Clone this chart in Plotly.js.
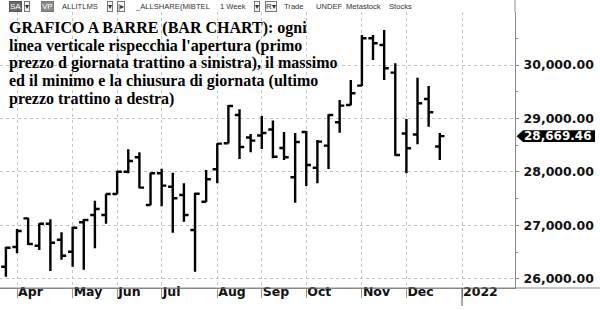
<!DOCTYPE html>
<html>
<head>
<meta charset="utf-8">
<script src="https://cdn.plot.ly/plotly-3.0.1.min.js"></script>
<style>html,body{margin:0;padding:0;background:#fff;}#chart{width:600px;height:310px;}</style>
</head>
<body>
<div id="chart"></div>
<script>
// Weekly bars (week ending Friday)
const dates = ['2021-03-26','2021-04-02','2021-04-09','2021-04-16','2021-04-23','2021-04-30',
  '2021-05-07','2021-05-14','2021-05-21','2021-05-28','2021-06-04','2021-06-11','2021-06-18','2021-06-25',
  '2021-07-02','2021-07-09','2021-07-16','2021-07-23','2021-07-30','2021-08-06','2021-08-13','2021-08-20',
  '2021-08-27','2021-09-03','2021-09-10','2021-09-17','2021-09-24','2021-10-01','2021-10-08','2021-10-15',
  '2021-10-22','2021-10-29','2021-11-05','2021-11-12','2021-11-19','2021-11-26','2021-12-03','2021-12-10',
  '2021-12-17','2021-12-24'];
const opens  = [26225,26594,27130,26618,27030,26730,26506,27056,27193,27193,27586,28004,28274,27380,
  27974,27723,27568,26912,27442,28049,28536,29066,28645,28682,28795,28448,27899,28748,28079,28491,
  28929,29253,29615,30503,30377,29858,28720,28701,29366,28476];
const highs  = [26599,26931,27143,27038,27113,26869,26974,27118,27461,27592,28023,28424,28367,27985,
  28060,27985,27787,27611,28036,28536,29253,29173,28710,29047,28963,28748,28729,28766,28598,29079,
  29347,29722,30564,30564,30658,30034,28991,29765,29609,28729];
const lows   = [26037,26476,26630,26538,26144,26356,26225,26169,26569,27030,27580,27974,27693,27375,
  27358,26862,27068,26131,27438,27787,28530,28242,28367,28429,28255,28223,27423,27736,27787,28055,
  28735,29250,29610,30096,29722,28304,27974,28517,28847,28223];
const closes = [26581,26893,26650,27030,26674,26431,26955,27100,27305,27585,28004,28205,27705,27974,
  27742,27506,27193,27592,27862,28530,29235,28467,28585,28729,28285,28274,28560,28130,28566,29066,
  29240,29473,30503,30409,29941,28317,28442,29285,29117,28669.46];

const tickDates  = ['2021-04-02','2021-05-07','2021-06-04','2021-07-02','2021-08-06','2021-09-03',
  '2021-10-01','2021-11-05','2021-12-03','2022-01-07'];
const tickLabels = ['Apr','May','Jun','Jul','Aug','Sep','Oct','Nov','Dec','2022'];
const yTicks = [26000,27000,28000,29000,30000];

const titleLines = [
  "GRAFICO A BARRE (BAR CHART): ogni",
  "linea verticale rispecchia l'apertura (primo",
  "prezzo d giornata trattino a sinistra), il massimo",
  "ed il minimo e la chiusura di giornata (ultimo",
  "prezzo trattino a destra)"
];

// toolbar: boxed buttons (centred) and plain words (left edge)
const toolbarButtons = [
  {t:'SA', x:15.5, bg:'#6b6b6b', fg:'#fff', border:'#555'},
  {t:'▾', x:27, bg:'#f4f4f4', fg:'#333', border:'#777'},
  {t:'VP', x:47.5, bg:'#8a8a8a', fg:'#fff', border:'#777'},
  {t:'▾', x:109.5, bg:'#f4f4f4', fg:'#333', border:'#777'},
  {t:'|▸', x:120.5, bg:'#f4f4f4', fg:'#333', border:'#777'},
  {t:'▾', x:257, bg:'#f4f4f4', fg:'#333', border:'#777'},
  {t:'R▾', x:270.5, bg:'#f4f4f4', fg:'#333', border:'#777'}
];
const toolbarWords = [
  {t:'ALLITLMS', x:60}, {t:'_ALLSHARE(MIBTEL', x:133}, {t:'1 Week', x:218},
  {t:'Trade', x:282}, {t:'UNDEF', x:314}, {t:'Metastock', x:344}, {t:'Stocks', x:387}
];

const PW = 515, PH = 276, PT = 12;
const px2paperX = p => p / PW;
const px2paperY = p => (PT + PH - p) / PH;

const trace = {
  type: 'ohlc', x: dates, open: opens, high: highs, low: lows, close: closes,
  increasing: {line: {color: '#000', width: 2.4}},
  decreasing: {line: {color: '#000', width: 2.4}},
  tickwidth: 0.42, hoverinfo: 'none', showlegend: false
};

const annotations = [];
titleLines.forEach((s, i) => {
  annotations.push({
    text: s, xref: 'paper', yref: 'paper', x: px2paperX(7), y: px2paperY(28.2 + i * 17.6),
    xanchor: 'left', yanchor: 'middle', showarrow: false,
    font: {family: 'Liberation Serif, Times New Roman, serif', size: 16, color: '#000', weight: 'bold'}
  });
});
toolbarButtons.forEach(it => {
  annotations.push({
    text: it.t, xref: 'paper', yref: 'paper', x: px2paperX(it.x), y: px2paperY(7),
    xanchor: 'center', yanchor: 'middle', showarrow: false,
    bgcolor: it.bg, bordercolor: it.border, borderwidth: 1, borderpad: 0,
    font: {family: 'Liberation Sans, Arial, sans-serif', size: 8, color: it.fg}
  });
});
toolbarWords.forEach(it => {
  annotations.push({
    text: it.t, xref: 'paper', yref: 'paper', x: px2paperX(it.x), y: px2paperY(7),
    xanchor: 'left', yanchor: 'middle', showarrow: false,
    font: {family: 'Liberation Sans, Arial, sans-serif', size: 7.6, color: '#333'}
  });
});
const last = closes[closes.length - 1];
annotations.push({
  text: last.toLocaleString('en-US', {minimumFractionDigits: 2, maximumFractionDigits: 2}),
  xref: 'paper', yref: 'y', x: px2paperX(558), y: last, xanchor: 'center', yanchor: 'middle',
  showarrow: false, font: {family: 'DejaVu Sans, sans-serif', size: 12, color: '#fff', weight: 'bold'}
});

const yUnitsPerPx = (30994 - 25826) / PH;
const bh = 5.9 * yUnitsPerPx;
const shapes = [
  {type: 'rect', xref: 'paper', yref: 'paper', x0: 0, x1: px2paperX(341), y0: px2paperY(107), y1: 1.05,
   fillcolor: '#fff', line: {width: 0}, layer: 'below'},
  {type: 'path', xref: 'paper', yref: 'y',
   path: `M ${px2paperX(516.5)} ${last} L ${px2paperX(523)} ${last + bh} L ${px2paperX(595)} ${last + bh} L ${px2paperX(595)} ${last - bh} L ${px2paperX(523)} ${last - bh} Z`,
   fillcolor: '#000', line: {width: 0}},
  {type: 'line', xref: 'paper', yref: 'paper', x0: 1, x1: 1, y0: 1, y1: px2paperY(0),
   line: {color: '#888', width: 1}},
  {type: 'line', xref: 'paper', yref: 'paper', x0: 0, x1: px2paperX(600), y0: 0, y1: 0,
   line: {color: '#888', width: 1}},
  {type: 'line', xref: 'x', yref: 'paper', x0: tickDates[tickDates.length - 1], x1: tickDates[tickDates.length - 1],
   y0: 0, y1: px2paperY(306), line: {color: '#555', width: 1}}
];

const layout = {
  width: 600, height: 310,
  margin: {l: 0, r: 85, t: PT, b: 22, pad: 0},
  paper_bgcolor: '#fff', plot_bgcolor: '#fff',
  showlegend: false, dragmode: false,
  xaxis: {
    type: 'date', range: ['2021-03-22 07:00', '2022-02-09 08:00'],
    tickmode: 'array', tickvals: tickDates, ticktext: tickLabels,
    ticks: 'outside', ticklen: 9, tickcolor: '#999', tickwidth: 1,
    showgrid: true, gridcolor: '#c4c4c4', griddash: 'dot', gridwidth: 1,
    showline: true, linecolor: '#888', zeroline: false,
    ticklabelposition: 'outside right', ticklabelstandoff: -8,
    tickfont: {family: 'DejaVu Sans, sans-serif', size: 12.5, color: '#111', weight: 'bold'},
    rangeslider: {visible: false}, fixedrange: true
  },
  yaxis: {
    side: 'right', range: [25826, 30994],
    tickmode: 'array', tickvals: yTicks, tickformat: ',.2f',
    ticks: 'outside', ticklen: 3, tickcolor: '#888',
    minor: {dtick: 500, tick0: 0, ticks: 'outside', ticklen: 2, tickcolor: '#888', showgrid: false},
    showgrid: true, gridcolor: '#c4c4c4', griddash: 'dot', gridwidth: 1,
    showline: true, linecolor: '#888', zeroline: false,
    ticklabelstandoff: 2,
    tickfont: {family: 'DejaVu Sans, sans-serif', size: 12.5, color: '#111', weight: 'bold'},
    fixedrange: true
  },
  annotations: annotations,
  shapes: shapes
};

Plotly.newPlot('chart', [trace], layout, {staticPlot: true, displayModeBar: false});
</script>
</body>
</html>
